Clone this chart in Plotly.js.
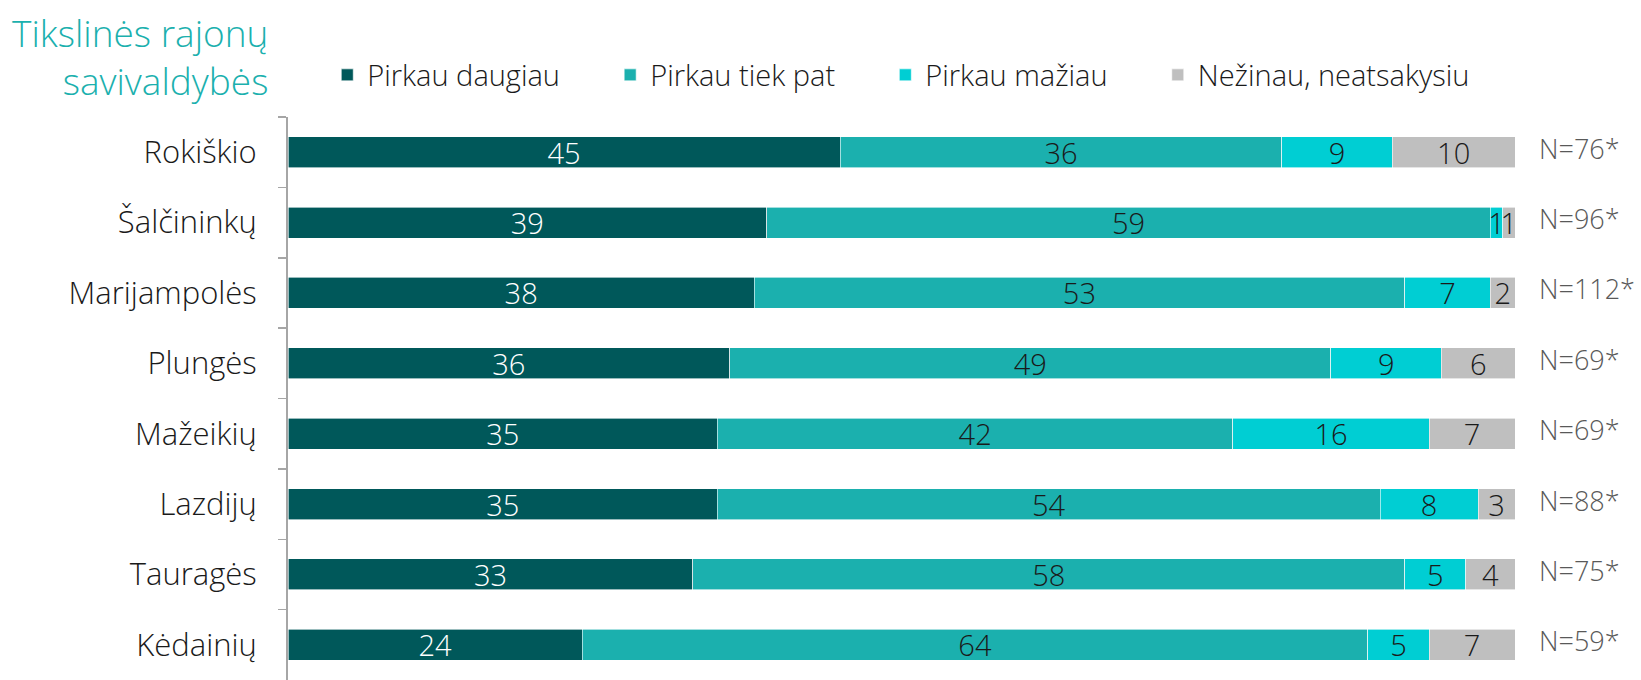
<!DOCTYPE html>
<html>
<head>
<meta charset="utf-8">
<script src="https://cdn.plot.ly/plotly-3.0.1.min.js"></script>
<style>html,body{margin:0;padding:0;background:#fff}#chart{width:1641px;height:680px}</style>
</head>
<body>
<div id="chart"></div>
<script>
const categories = ["Rokiškio","Šalčininkų","Marijampolės","Plungės","Mažeikių","Lazdijų","Tauragės","Kėdainių"];
const seriesNames = ["Pirkau daugiau","Pirkau tiek pat","Pirkau mažiau","Nežinau, neatsakysiu"];
const pirkauDaugiau = [45,39,38,36,35,35,33,24];
const pirkauTiekPat = [36,59,53,49,42,54,58,64];
const pirkauMaziau = [9,1,7,9,16,8,5,5];
const nezinau = [10,1,2,6,7,3,4,7];
const sampleLabels = ["N=76*","N=96*","N=112*","N=69*","N=69*","N=88*","N=75*","N=59*"];
const titleText = "Tikslinės rajonų<br>savivaldybės";

const colors = ["#00585A","#1BB0AE","#00CED3","#BFBFBF"];
const textColors = ["#ffffff","#1a1a1a","#1a1a1a","#1a1a1a"];
const FONT = "Open Sans, Segoe UI, sans-serif";
const series = [pirkauDaugiau,pirkauTiekPat,pirkauMaziau,nezinau];
const PAD = "\u00A0\u00A0\u00A0\u00A0\u00A0\u00A0";

const traces = series.map((vals,i)=>({
  type:"bar", orientation:"h", name:seriesNames[i] + (i < series.length-1 ? PAD : ""),
  x:vals, y:categories,
  marker:{color:colors[i], line:{color:"#ffffff", width:0.6}},
  text:vals.map(String), textposition:"inside", insidetextanchor:"middle",
  textangle:0, constraintext:"none", cliponaxis:false,
  textfont:{family:FONT, size:29, color:textColors[i], weight:300},
  hoverinfo:"skip"
}));

const annotations = categories.map((c,i)=>({
  x:100, y:c, xref:"x", yref:"y", xanchor:"left", yanchor:"middle",
  xshift:22, yshift:4, showarrow:false, text:sampleLabels[i],
  font:{family:FONT, size:27, color:"#595959", weight:300}
}));
annotations.push({
  x:(270-288)/1227, y:1+(117-5)/563, xref:"paper", yref:"paper", xanchor:"right", yanchor:"top",
  align:"right", showarrow:false, text:titleText,
  font:{family:FONT, size:37, color:"#1BB0AE", weight:300}
});

const layout = {
  width:1641, height:680,
  margin:{l:288, r:126, t:117, b:0, pad:0},
  paper_bgcolor:"#ffffff", plot_bgcolor:"#ffffff",
  barmode:"stack", bargap:0.56,
  showlegend:true,
  legend:{orientation:"h", x:0.032, y:1+(117-75)/563, xanchor:"left", yanchor:"middle",
    font:{family:FONT, size:29, color:"#1a1a1a", weight:300}, traceorder:"normal", itemwidth:30},
  xaxis:{range:[0,100], showgrid:false, zeroline:false, showticklabels:false, showline:false, ticks:"", fixedrange:true},
  yaxis:{type:"category", autorange:false, range:[7.5,-0.5], showgrid:false, zeroline:false,
    showline:true, linecolor:"#A6A6A6", linewidth:2, ticks:"outside", tickson:"boundaries",
    ticklen:8, tickcolor:"#A6A6A6", tickwidth:1.5, ticklabelstandoff:23,
    tickfont:{family:FONT, size:31, color:"#1a1a1a", weight:300}},
  annotations:annotations
};
Plotly.newPlot("chart", traces, layout, {displayModeBar:false, staticPlot:true});
</script>
</body>
</html>
